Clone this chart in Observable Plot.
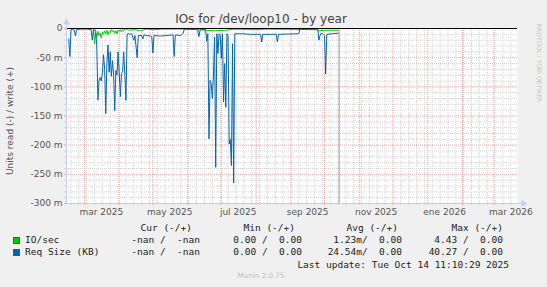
<!DOCTYPE html>
<html><head><meta charset="utf-8">
<script src="https://cdn.jsdelivr.net/npm/d3@7"></script>
<script src="https://cdn.jsdelivr.net/npm/@observablehq/plot@0.6"></script>
<style>
html,body{margin:0;padding:0;background:#f0f0f0;}
#wrap{position:relative;width:547px;height:287px;overflow:hidden;font-family:"DejaVu Sans",sans-serif;}
#wrap svg{position:absolute;left:0;top:0;}
.t{position:absolute;white-space:pre;line-height:1;}
.mono{font-family:"DejaVu Sans Mono",monospace;font-size:9.5px;color:#222;}
.sw{position:absolute;width:5px;height:5px;border:0.5px solid #555;}
</style></head><body><div id="wrap"></div>
<script>
// ---- data (values in milli-units, read side negative) ----
const reqDates = ["2025-02-15","2025-02-16","2025-02-17","2025-02-18","2025-02-20","2025-02-21","2025-02-22","2025-02-26","2025-03-03","2025-03-07","2025-03-08","2025-03-09","2025-03-11","2025-03-12","2025-03-13","2025-03-14","2025-03-15","2025-03-16","2025-03-17","2025-03-18","2025-03-19","2025-03-20","2025-03-21","2025-03-22","2025-03-23","2025-03-24","2025-03-25","2025-03-26","2025-03-27","2025-03-28","2025-03-29","2025-03-30","2025-03-31","2025-04-01","2025-04-02","2025-04-03","2025-04-04","2025-04-05","2025-04-06","2025-04-07","2025-04-08","2025-04-09","2025-04-10","2025-04-12","2025-04-14","2025-04-15","2025-04-17","2025-04-18","2025-04-21","2025-04-22","2025-04-23","2025-04-25","2025-04-29","2025-04-30","2025-05-01","2025-05-02","2025-05-08","2025-05-13","2025-05-19","2025-05-20","2025-05-21","2025-05-26","2025-05-28","2025-05-29","2025-06-09","2025-06-10","2025-06-11","2025-06-12","2025-06-13","2025-06-17","2025-06-18","2025-06-19","2025-06-20","2025-06-21","2025-06-22","2025-06-23","2025-06-24","2025-06-25","2025-06-26","2025-06-27","2025-06-28","2025-06-29","2025-06-30","2025-07-01","2025-07-02","2025-07-03","2025-07-04","2025-07-05","2025-07-06","2025-07-07","2025-07-08","2025-07-09","2025-07-10","2025-07-11","2025-07-12","2025-07-13","2025-07-20","2025-07-27","2025-08-04","2025-08-05","2025-08-06","2025-08-07","2025-08-19","2025-08-20","2025-08-21","2025-09-08","2025-09-09","2025-09-24","2025-09-25","2025-09-26","2025-09-27","2025-09-28","2025-09-29","2025-09-30","2025-10-01","2025-10-02","2025-10-03","2025-10-08","2025-10-13"];
const reqValues = [-18,-48,-2,-1,-3,-13,-2,-1,-1,-2,-20,-2,-3,-30,-123,-89,-84,-90,-76,-45,-70,-146,-60,-28,-75,-40,-82,-55,-80,-141,-72,-80,-40,-75,-117,-77,-74,-40,-80,-123,-12,-8,-10,-9,-20,-12,-50,-12,-12,-18,-11,-12,-13,-14,-42,-12,-13,-12,-11,-48,-11,-12,-8,-1,-1,-3,-14,-4,-1,-2,-22,-9,-189,-89,-95,-120,-80,-15,-238,-9,-43,-9,-12,-51,-9,-126,-60,-135,-9,-12,-198,-190,-235,-26,-265,-9,-9,-10,-10,-10,-23,-10,-10,-23,-10,-9,-1,-1,-2,-20,-12,-8,-9,-10,-12,-78,-10,-9,-8];
const ioDates = ["2025-02-15","2025-03-08","2025-03-09","2025-03-10","2025-03-11","2025-03-12","2025-03-13","2025-03-14","2025-03-15","2025-03-16","2025-03-17","2025-03-18","2025-03-19","2025-03-20","2025-03-21","2025-03-22","2025-03-23","2025-03-24","2025-03-25","2025-03-26","2025-03-27","2025-03-28","2025-03-29","2025-03-30","2025-03-31","2025-04-01","2025-04-02","2025-04-03","2025-04-04","2025-04-05","2025-04-06","2025-04-08","2025-04-10","2025-04-15","2025-04-20","2025-04-25","2025-05-01","2025-05-10","2025-05-28","2025-06-10","2025-06-18","2025-06-25","2025-07-05","2025-07-13","2025-08-01","2025-08-10","2025-09-24","2025-09-26","2025-10-01","2025-10-13"];
const ioValues = [0,0,0,-26,-8,-15,-5,-12,-8,-16,-6,-10,-4,-9,-3,-11,-5,-7,-2,-6,-3,-8,-4,-9,-3,-5,-2,-6,-2,-4,-1,-1,-3,-2,-4,-1,-2,-1,-1,-2,-3,-4,-3,-1,-2,-1,-2,-4,-3,-3];
const lastUpdateDate = "2025-10-14";
const xStart = "2025-02-13", xEnd = "2026-03-22";
const yMajorTicks = [0,-50,-100,-150,-200,-250,-300];
const yMinorTicks = [-10,-20,-30,-40,-60,-70,-80,-90,-110,-120,-130,-140,-160,-170,-180,-190,-210,-220,-230,-240,-260,-270,-280,-290];
const xLabelMonths = ["2025-03-01","2025-05-01","2025-07-01","2025-09-01","2025-11-01","2026-01-01","2026-03-01"];
const xLabelTexts = ["mar 2025","may 2025","jul 2025","sep 2025","nov 2025","ene 2026","mar 2026"];
const seriesNames = ["IO/sec","Req Size (KB)"];
const seriesColors = ["#00cc00","#0066b3"];
const columnHeaders = ["Cur (-/+)","Min (-/+)","Avg (-/+)","Max (-/+)"];
const curValues = ["-nan /  -nan","-nan /  -nan"];
const minValues = ["0.00 /  0.00","0.00 /  0.00"];
const avgValues = ["1.23m/  0.00","24.54m/  0.00"];
const maxValues = ["4.43 /  0.00","40.27 /  0.00"];
const titleText = "IOs for /dev/loop10 - by year";
const yLabelText = "Units read (-) / write (+)";
const lastUpdateText = "Last update: Tue Oct 14 11:10:29 2025";
const versionText = "Munin 2.0.75";
const creditText = "RRDTOOL / TOBI OETIKER";

// ---- build ----
const P = s => new Date(s);
const req = reqDates.map((d,i)=>({date:P(d), value:reqValues[i]}));
const io = ioDates.map((d,i)=>({date:P(d), value:ioValues[i]}));
const x0 = P(xStart), x1 = P(xEnd);
const monthStarts = d3.utcMonths(P("2025-03-01"), P("2026-03-02"));
const weekStarts = d3.utcMondays(x0, x1).filter(d => d.getUTCDate() !== 1);
const labelPos = xLabelMonths.map(m => d3.utcDay.offset(P(m), 15));
const labelMap = new Map(labelPos.map((d,i)=>[+d, xLabelTexts[i]]));
const axisCol = "#c6ccf2", majCol = "#f2a3a3", minCol = "#d4d4d4";

const chart = Plot.plot({
  width: 547, height: 287,
  marginLeft: 66, marginRight: 30, marginTop: 28, marginBottom: 84,
  style: {background: "transparent", fontFamily: "DejaVu Sans, sans-serif", fontSize: "9px"},
  x: {type: "utc", domain: [x0, x1]},
  y: {domain: [-300, 0]},
  marks: [
    Plot.frame({fill: "white", stroke: null}),
    Plot.gridX(weekStarts, {stroke: minCol, strokeOpacity: 1, strokeDasharray: "1,1"}),
    Plot.gridY(yMinorTicks, {stroke: minCol, strokeOpacity: 1, strokeDasharray: "1,1"}),
    Plot.gridX(monthStarts, {stroke: majCol, strokeOpacity: 1, strokeDasharray: "1,1"}),
    Plot.gridY(yMajorTicks, {stroke: majCol, strokeOpacity: 1, strokeDasharray: "1,1"}),
    Plot.axisX(weekStarts, {tickSize: 2, tickFormat: () => "", stroke: minCol, label: null}),
    Plot.axisX(monthStarts, {tickSize: 2, tickFormat: () => "", stroke: majCol, label: null}),
    Plot.axisX(labelPos, {tickSize: 0, tickPadding: 5, tickFormat: d => labelMap.get(+d), fill: "#555", fontSize: 9, label: null}),
    Plot.axisY(yMinorTicks, {tickSize: 2, tickFormat: () => "", stroke: minCol, label: null}),
    Plot.axisY(yMajorTicks, {tickSize: 2, tickPadding: 2, tickFormat: v => v === 0 ? "0" : `${v} m`, stroke: majCol, fill: "#555", fontSize: 9, label: null}),
    Plot.line(io, {x: "date", y: "value", stroke: seriesColors[0], strokeWidth: 1}),
    Plot.line(req, {x: "date", y: "value", stroke: seriesColors[1], strokeWidth: 1}),
    Plot.ruleX([P(lastUpdateDate)], {stroke: "#999", strokeWidth: 1}),
    Plot.ruleY([0], {stroke: "#000", strokeWidth: 1}),
    Plot.ruleX([x0], {stroke: axisCol, insetTop: -6}),
    Plot.ruleY([-300], {stroke: axisCol, insetRight: -6}),
    Plot.dot([x0], {x: d => d, y: () => 0, dy: -6, symbol: "triangle", r: 2.6, fill: axisCol, stroke: null}),
    Plot.dot([x1], {x: d => d, y: () => -300, dx: 6, symbol: "triangle", rotate: 90, r: 2.6, fill: axisCol, stroke: null})
  ]
});
const wrap = document.getElementById("wrap");
wrap.appendChild(chart);

function addText(txt, css, cls) {
  const el = document.createElement("div");
  el.className = "t " + (cls || "");
  el.textContent = txt;
  Object.assign(el.style, css);
  wrap.appendChild(el);
  return el;
}
// title
addText(titleText, {left: "0", width: "522px", textAlign: "center", top: "13px", fontSize: "12px", color: "#444"});
// y label (rotated)
addText(yLabelText, {left: "10px", top: "121px", fontSize: "9px", color: "#555", transform: "translate(-50%,-50%) rotate(-90deg)"});
// credit
addText(creditText, {left: "539px", top: "63px", fontSize: "6.1px", color: "#c8c8c8", transform: "translate(-50%,-50%) rotate(90deg)"});
// legend headers
const headRight = [192, 295, 398, 503];
columnHeaders.forEach((h,i)=> addText(h, {right: (547-headRight[i])+"px", top: "223px"}, "mono"));
const valRight = [200, 302, 402, 503];
const rowTops = [234.5, 247];
seriesNames.forEach((n,r)=>{
  const sw = document.createElement("div");
  sw.className = "sw";
  Object.assign(sw.style, {left: "13px", top: (rowTops[r]+2)+"px", background: seriesColors[r]});
  wrap.appendChild(sw);
  addText(n, {left: "25px", top: rowTops[r]+"px"}, "mono");
  [curValues, minValues, avgValues, maxValues].forEach((arr,c)=>
    addText(arr[r], {right: (547-valRight[c])+"px", top: rowTops[r]+"px"}, "mono"));
});
addText(lastUpdateText, {right: (547-509)+"px", top: "259.5px"}, "mono");
addText(versionText, {left: "0", width: "522px", textAlign: "center", top: "272px", fontSize: "7.2px", color: "#c0c0c0"});
</script></body></html>
